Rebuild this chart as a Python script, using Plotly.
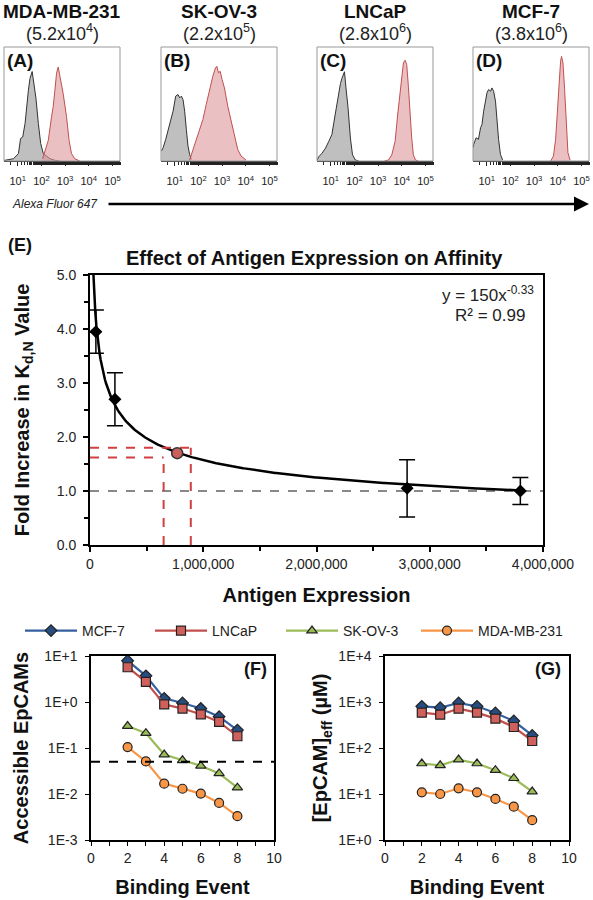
import numpy as np
import plotly.graph_objects as go

W, H = 593, 900
FONT = "Liberation Sans, Arial, sans-serif"

# ---------------- DATA ----------------
cell_lines = ["MDA-MB-231", "SK-OV-3", "LNCaP", "MCF-7"]
expr_labels = ["(5.2x10<sup>4</sup>)", "(2.2x10<sup>5</sup>)", "(2.8x10<sup>6</sup>)", "(3.8x10<sup>6</sup>)"]
panel_tags = ["(A)", "(B)", "(C)", "(D)"]
hist_ticks = [10, 100, 1000, 10000, 100000]
hist_ticktext = ["10<sup>1</sup>", "10<sup>2</sup>", "10<sup>3</sup>", "10<sup>4</sup>", "10<sup>5</sup>"]

# flow histograms: log10(fluorescence) and % of panel height
ctrlA_log = [0.42, 0.6, 0.82, 1.03, 1.12, 1.21, 1.31, 1.45, 1.52, 1.61, 1.68, 1.77, 1.87, 1.97, 2.08, 2.22, 2.36, 2.57, 2.78]
ctrlA_h = [0.5, 1.0, 2.0, 6.5, 19.7, 21.0, 33.0, 62.0, 72.6, 78.5, 69.7, 55.0, 33.0, 15.3, 6.5, 4.1, 2.0, 0.6, 0.0]
agA_log = [2.05, 2.15, 2.29, 2.43, 2.50, 2.57, 2.64, 2.71, 2.78, 2.85, 2.92, 3.06, 3.17, 3.27, 3.41, 3.62]
agA_h = [2.0, 8.0, 18.0, 39.0, 48.0, 62.0, 77.0, 82.4, 75.6, 68.0, 59.0, 39.0, 18.0, 6.5, 2.0, 0.0]

ctrlB_log = [0.44, 0.51, 0.62, 0.72, 0.82, 0.93, 1.04, 1.14, 1.21, 1.28, 1.35, 1.42, 1.49, 1.56, 1.63, 1.70]
ctrlB_h = [8.7, 11.7, 19.0, 27.7, 36.4, 43.7, 56.9, 58.3, 55.4, 56.9, 53.9, 43.7, 27.7, 13.1, 5.8, 1.5]
agB_log = [1.63, 1.77, 1.91, 2.05, 2.19, 2.33, 2.47, 2.61, 2.72, 2.78, 2.85, 2.92, 3.00, 3.10, 3.24, 3.38, 3.52, 3.66, 3.80, 4.01]
agB_h = [0.9, 10.2, 19.0, 27.7, 36.4, 49.6, 62.7, 74.3, 81.6, 83.1, 77.3, 78.7, 71.4, 64.1, 48.1, 35.0, 21.9, 10.2, 4.4, 0.9]

ctrlC_log = [0.42, 0.50, 0.63, 0.78, 0.92, 1.05, 1.13, 1.22, 1.34, 1.41, 1.47, 1.58, 1.64, 1.73, 1.83, 1.92, 2.04, 2.18]
ctrlC_h = [0.9, 3.9, 6.8, 11.3, 17.3, 23.2, 33.6, 45.5, 58.9, 67.9, 72.3, 78.3, 64.9, 47.0, 20.2, 5.4, 0.9, 0.0]
agC_log = [3.27, 3.44, 3.58, 3.72, 3.83, 3.93, 4.00, 4.07, 4.14, 4.21, 4.28, 4.35, 4.42, 4.49, 4.58, 4.70]
agC_h = [0.0, 0.9, 5.4, 17.3, 41.1, 62.2, 77.1, 86.0, 88.4, 84.5, 65.5, 41.1, 20.2, 5.4, 0.9, 0.0]

ctrlD_log = [0.42, 0.45, 0.55, 0.65, 0.74, 0.80, 0.87, 0.95, 1.01, 1.08, 1.16, 1.22, 1.29, 1.37, 1.43, 1.50, 1.58, 1.67]
ctrlD_h = [11.7, 14.6, 20.4, 19.0, 29.2, 32.1, 43.7, 52.5, 59.8, 62.7, 61.2, 64.1, 61.2, 52.5, 36.4, 19.0, 5.8, 0.9]
agD_log = [3.70, 3.82, 3.91, 3.98, 4.05, 4.12, 4.16, 4.22, 4.29, 4.36, 4.43, 4.52]
agD_h = [0.0, 4.4, 19.0, 42.3, 68.5, 87.5, 91.8, 86.0, 62.7, 30.6, 7.3, 0.9]

hist_ctrl = [(ctrlA_log, ctrlA_h), (ctrlB_log, ctrlB_h), (ctrlC_log, ctrlC_h), (ctrlD_log, ctrlD_h)]
hist_ag = [(agA_log, agA_h), (agB_log, agB_h), (agC_log, agC_h), (agD_log, agD_h)]

# panel E
antigen_expr = [52000, 220000, 2800000, 3800000]
fold_increase = [3.95, 2.70, 1.05, 1.00]
fold_err = [0.40, 0.49, 0.53, 0.25]
unknown_expr = [770000]
unknown_fold = [1.70]
fit_coef = 150
fit_exp = -0.33
fold_band = [1.62, 1.80]
expr_band = [650000, 890000]
baseline_fold = 1.0

# panels F, G
binding_event = [2, 3, 4, 5, 6, 7, 8]
series_names = ["MCF-7", "LNCaP", "SK-OV-3", "MDA-MB-231"]
access_F = {
    "MCF-7": [7.9, 3.7, 1.2, 0.95, 0.72, 0.48, 0.245],
    "LNCaP": [5.7, 2.75, 0.89, 0.72, 0.54, 0.37, 0.18],
    "SK-OV-3": [0.30, 0.21, 0.072, 0.054, 0.041, 0.028, 0.0137],
    "MDA-MB-231": [0.105, 0.051, 0.0168, 0.013, 0.0102, 0.0064, 0.0033],
}
epcam_G = {
    "MCF-7": [805, 753, 950, 805, 576, 386, 188],
    "LNCaP": [586, 530, 716, 586, 435, 286, 142],
    "SK-OV-3": [46, 42, 56, 46, 33, 22, 11.3],
    "MDA-MB-231": [10.9, 10.0, 13.3, 10.9, 7.8, 5.3, 2.7],
}
threshold_F = 0.05

# ---------------- STYLE ----------------
styles = {
    "MCF-7": dict(line="#35609F", fill="#274C80", symbol="diamond", size=9),
    "LNCaP": dict(line="#C0504D", fill="#D0605C", symbol="square", size=9),
    "SK-OV-3": dict(line="#9BBB59", fill="#9BBB59", symbol="triangle-up", size=9),
    "MDA-MB-231": dict(line="#F79646", fill="#F79646", symbol="circle", size=9),
}
legend_x_px = {"MCF-7": 20, "LNCaP": 150, "SK-OV-3": 281, "MDA-MB-231": 416}


def xd(a, b):
    return [a / W, b / W]


def yd(top, bottom):
    return [1 - bottom / H, 1 - top / H]


fig = go.Figure()
layout = dict(
    width=W, height=H, margin=dict(l=0, r=0, t=0, b=0, autoexpand=False),
    paper_bgcolor="white", plot_bgcolor="white",
    font=dict(family=FONT, color="#111"),
    showlegend=True,
)
annotations = []
shapes = []

# ---------------- histograms ----------------
hist_x = [(4, 120), (161, 277), (317, 433), (473, 589)]
for i in range(4):
    n = i + 1
    xa = f"x{n}" if n > 1 else "x"
    ya = f"y{n}" if n > 1 else "y"
    key_x = f"xaxis{n}" if n > 1 else "xaxis"
    key_y = f"yaxis{n}" if n > 1 else "yaxis"
    cl, ch = hist_ctrl[i]
    al, ah = hist_ag[i]
    fig.add_trace(go.Scatter(x=[10 ** v for v in cl], y=ch, xaxis=xa, yaxis=ya, mode="lines",
                             line=dict(color="#333", width=1), fill="tozeroy",
                             fillcolor="rgba(175,175,175,0.8)", showlegend=False, hoverinfo="skip"))
    fig.add_trace(go.Scatter(x=[10 ** v for v in al], y=ah, xaxis=xa, yaxis=ya, mode="lines",
                             line=dict(color="#C0504D", width=1), fill="tozeroy",
                             fillcolor="rgba(222,150,155,0.6)", showlegend=False, hoverinfo="skip"))
    x0, x1 = hist_x[i]
    layout[key_x] = dict(domain=xd(x0, x1), type="log", range=[0.42, 5.32], anchor=ya, automargin=False,
                         showgrid=False, zeroline=False, showline=True, linecolor="#222", linewidth=1.2,
                         ticks="outside", ticklen=4, tickcolor="#222", tickvals=hist_ticks,
                         ticktext=hist_ticktext, tickfont=dict(size=11, color="#222"),
                         ticklabelstandoff=6,
                         minor=dict(ticks="outside", ticklen=3, tickcolor="#222", showgrid=False))
    layout[key_y] = dict(domain=yd(47, 161), range=[0, 100], anchor=xa, showgrid=False, automargin=False,
                         zeroline=False, showline=False, showticklabels=False, ticks="")
    shapes.append(dict(type="rect", xref=f"{xa} domain", yref=f"{ya} domain", x0=0, x1=1, y0=0, y1=1,
                       line=dict(color="#999", width=1)))
    annotations.append(dict(text=f"<b>{panel_tags[i]}</b>", xref=f"{xa} domain", yref=f"{ya} domain",
                            x=0.01, y=0.99, xanchor="left", yanchor="top", showarrow=False,
                            font=dict(size=19, color="#111")))
    cx = (x0 + x1) / 2 / W
    annotations.append(dict(text=f"<b>{cell_lines[i]}</b>", xref="paper", yref="paper", x=cx,
                            y=1 - 12 / H, xanchor="center", yanchor="middle", showarrow=False,
                            font=dict(size=19, color="#111")))
    annotations.append(dict(text=expr_labels[i], xref="paper", yref="paper", x=cx,
                            y=1 - 32 / H, xanchor="center", yanchor="middle", showarrow=False,
                            font=dict(size=18, color="#222")))

# Alexa Fluor arrow
annotations.append(dict(text="<i>Alexa Fluor 647</i>", xref="paper", yref="paper", x=10 / W, y=1 - 204 / H,
                        xanchor="left", yanchor="middle", showarrow=False, font=dict(size=12, color="#222")))
annotations.append(dict(x=589 / W, y=1 - 204 / H, ax=-482, ay=0, xref="paper", yref="paper",
                        axref="pixel", ayref="pixel", text="", showarrow=True, arrowhead=2, arrowsize=1.2,
                        arrowwidth=2.5, arrowcolor="#000"))

# ---------------- Panel E ----------------
fit_x = np.linspace(28000, 3800000, 400)
fit_y = fit_coef * fit_x ** fit_exp
fig.add_trace(go.Scatter(x=[0, 4000000], y=[baseline_fold, baseline_fold], xaxis="x5", yaxis="y5", mode="lines",
                         line=dict(color="#888", width=2, dash="dash"), showlegend=False, hoverinfo="skip"))
fig.add_trace(go.Scatter(x=fit_x, y=fit_y, xaxis="x5", yaxis="y5", mode="lines",
                         line=dict(color="#000", width=2.5), showlegend=False, hoverinfo="skip"))
fig.add_trace(go.Scatter(x=antigen_expr, y=fold_increase, xaxis="x5", yaxis="y5", mode="markers",
                         marker=dict(symbol="diamond", size=10, color="#000"),
                         error_y=dict(type="data", array=fold_err, color="#000", thickness=1.5, width=8),
                         showlegend=False))
# red dashed guide lines
red_dash = dict(color="#D04040", width=2, dash="dash")
for (xs, ys) in [([0, expr_band[1]], [fold_band[1], fold_band[1]]),
                 ([expr_band[1], expr_band[1]], [0, fold_band[1]]),
                 ([0, expr_band[0]], [fold_band[0], fold_band[0]]),
                 ([expr_band[0], expr_band[0]], [0, fold_band[0]])]:
    fig.add_trace(go.Scatter(x=xs, y=ys, xaxis="x5", yaxis="y5", mode="lines", line=red_dash,
                             showlegend=False, hoverinfo="skip"))
fig.add_trace(go.Scatter(x=unknown_expr, y=unknown_fold, xaxis="x5", yaxis="y5", mode="markers",
                         marker=dict(symbol="circle", size=11, color="#C9605C", line=dict(color="#333", width=1.5)),
                         showlegend=False))

layout["xaxis5"] = dict(domain=xd(90, 543), range=[0, 4000000], anchor="y5", showgrid=False, zeroline=False,
                        automargin=False,
                        showline=True, mirror=True, linecolor="#000", linewidth=2, ticks="outside",
                        ticklen=5, tickwidth=1.5, tickcolor="#000", tickvals=[0, 1000000, 2000000, 3000000, 4000000],
                        tickformat=",", tickfont=dict(size=14, color="#222"),
                        minor=dict(ticks="outside", ticklen=4, tickcolor="#000", dtick=500000, showgrid=False),
                        title=dict(text="<b>Antigen Expression</b>", font=dict(size=20, color="#111"), standoff=17))
layout["yaxis5"] = dict(domain=yd(275, 545), range=[0, 5], anchor="x5", showgrid=False, zeroline=False,
                        automargin=False,
                        showline=True, mirror=True, linecolor="#000", linewidth=2, ticks="outside",
                        ticklen=5, tickwidth=1.5, tickcolor="#000", dtick=1, tickformat=".1f",
                        tickfont=dict(size=14, color="#222"), ticklabelstandoff=4,
                        minor=dict(ticks="outside", ticklen=4, tickcolor="#000", dtick=0.5, showgrid=False),
                        title=dict(text="<b>Fold Increase in K<sub>d,N</sub> Value</b>",
                                   font=dict(size=20, color="#111"), standoff=22))
annotations.append(dict(text="<b>(E)</b>", xref="paper", yref="paper", x=6 / W, y=1 - 245 / H,
                        xanchor="left", yanchor="middle", showarrow=False, font=dict(size=18, color="#111")))
annotations.append(dict(text="<b>Effect of Antigen Expression on Affinity</b>", xref="paper", yref="paper",
                        x=314 / W, y=1 - 258 / H, xanchor="center", yanchor="middle", showarrow=False,
                        font=dict(size=20, color="#111")))
annotations.append(dict(text=f"y = {fit_coef}x<sup>{fit_exp}</sup>", xref="x5 domain", yref="y5 domain",
                        x=0.985, y=0.93, xanchor="right", yanchor="middle", showarrow=False,
                        font=dict(size=17, color="#222")))
annotations.append(dict(text="R² = 0.99", xref="x5 domain", yref="y5 domain",
                        x=0.965, y=0.85, xanchor="right", yanchor="middle", showarrow=False,
                        font=dict(size=17, color="#222")))

# ---------------- Panels F, G ----------------
legend_keys = ["legend", "legend2", "legend3", "legend4"]
for k, name in enumerate(series_names):
    st = styles[name]
    fig.add_trace(go.Scatter(x=binding_event, y=access_F[name], xaxis="x6", yaxis="y6", mode="lines+markers",
                             name=name, legendgroup=name, legend=legend_keys[k],
                             line=dict(color=st["line"], width=2.2),
                             marker=dict(symbol=st["symbol"], size=st["size"], color=st["fill"],
                                         line=dict(color="#222", width=1.2))))
    fig.add_trace(go.Scatter(x=binding_event, y=epcam_G[name], xaxis="x7", yaxis="y7", mode="lines+markers",
                             name=name, legendgroup=name, showlegend=False,
                             line=dict(color=st["line"], width=2.2),
                             marker=dict(symbol=st["symbol"], size=st["size"], color=st["fill"],
                                         line=dict(color="#222", width=1.2))))
    layout[legend_keys[k]] = dict(orientation="h", x=legend_x_px[name] / W, y=1 - 631 / H, xanchor="left",
                                  yanchor="middle", font=dict(size=14, color="#222"), itemwidth=52,
                                  bgcolor="rgba(0,0,0,0)", itemclick=False)
fig.add_trace(go.Scatter(x=[0, 10], y=[threshold_F, threshold_F], xaxis="x6", yaxis="y6", mode="lines",
                         line=dict(color="#000", width=2, dash="dash"), showlegend=False, hoverinfo="skip"))

common_x = dict(range=[0, 10], dtick=2, showgrid=False, zeroline=False, showline=True, mirror=True,
                automargin=False,
                linecolor="#000", linewidth=1.5, ticks="outside", ticklen=4, tickcolor="#000",
                tickfont=dict(size=14, color="#222"),
                minor=dict(ticks="outside", ticklen=4, tickcolor="#000", dtick=1, showgrid=False),
                title=dict(text="<b>Binding Event</b>", font=dict(size=20, color="#111"), standoff=15))
layout["xaxis6"] = dict(domain=xd(91, 274), anchor="y6", **common_x)
layout["xaxis7"] = dict(domain=xd(385, 569), anchor="y7", **common_x)
common_y = dict(type="log", showgrid=False, zeroline=False, showline=True, mirror=True, automargin=False,
                linecolor="#000", linewidth=1.5, ticks="outside", ticklen=4, tickcolor="#000",
                tickfont=dict(size=14, color="#222"), ticklabelstandoff=5)
layout["yaxis6"] = dict(domain=yd(656, 840), anchor="x6", range=[-3, 1],
                        tickvals=[0.001, 0.01, 0.1, 1, 10], ticktext=["1E-3", "1E-2", "1E-1", "1E+0", "1E+1"],
                        title=dict(text="<b>Accessible EpCAMs</b>", font=dict(size=20, color="#111"), standoff=10),
                        **common_y)
layout["yaxis7"] = dict(domain=yd(656, 840), anchor="x7", range=[0, 4],
                        tickvals=[1, 10, 100, 1000, 10000], ticktext=["1E+0", "1E+1", "1E+2", "1E+3", "1E+4"],
                        title=dict(text="<b>[EpCAM]<sub>eff</sub> (µM)</b>", font=dict(size=20, color="#111"),
                                   standoff=5),
                        **common_y)
annotations.append(dict(text="<b>(F)</b>", xref="x6 domain", yref="y6 domain", x=0.97, y=0.93,
                        xanchor="right", yanchor="middle", showarrow=False, font=dict(size=18, color="#111")))
annotations.append(dict(text="<b>(G)</b>", xref="x7 domain", yref="y7 domain", x=0.97, y=0.93,
                        xanchor="right", yanchor="middle", showarrow=False, font=dict(size=18, color="#111")))

layout["annotations"] = annotations
layout["shapes"] = shapes
fig.update_layout(**layout)
fig.write_html("out.html", config={"displayModeBar": False},
               post_script="document.body.style.margin='0px';")
